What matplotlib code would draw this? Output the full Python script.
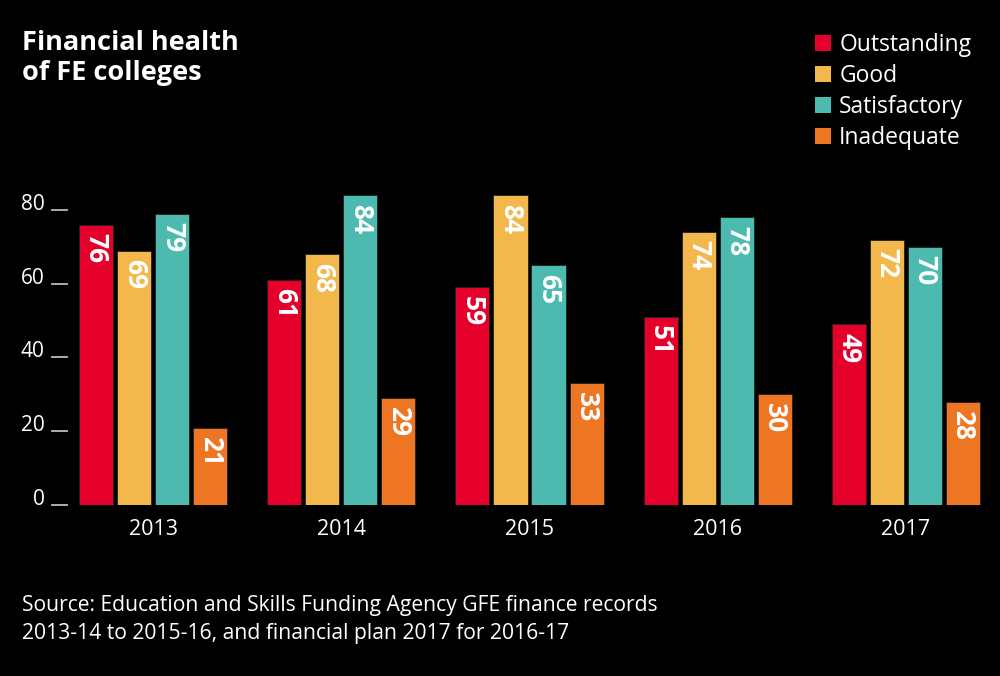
import numpy as np
import matplotlib.pyplot as plt
from matplotlib.patches import Patch
import matplotlib.transforms as mtransforms

plt.rcParams['font.family'] = ['Open Sans', 'DejaVu Sans']

years = ['2013', '2014', '2015', '2016', '2017']
categories = ['Outstanding', 'Good', 'Satisfactory', 'Inadequate']
outstanding = [76, 61, 59, 51, 49]
good = [69, 68, 84, 74, 72]
satisfactory = [79, 84, 65, 78, 70]
inadequate = [21, 29, 33, 30, 28]
colors = ['#e4002b', '#f2b84b', '#4dbaaf', '#ee7623']

series = [outstanding, good, satisfactory, inadequate]

fig = plt.figure(figsize=(10, 6.76), dpi=100, facecolor='black')
ax = fig.add_axes([0.078, 0.253, 0.903, 0.4636])
ax.set_facecolor('black')

pitch = 0.2021
width = 0.181
x = np.arange(len(years))
for j, (vals, c) in enumerate(zip(series, colors)):
    xs = x + (j - 1.5) * pitch
    ax.bar(xs, vals, width=width, color=c, edgecolor='#222222', linewidth=0.6)
    for xi, v in zip(xs, vals):
        ax.annotate(str(v), (xi, v), xytext=(0, -6), textcoords='offset points',
                    ha='center', va='top', rotation=-90, color='white',
                    fontsize=19, fontweight='bold')

ax.set_xlim(-0.4, 4.4)
ax.set_ylim(0, 85)
for s in ax.spines.values():
    s.set_visible(False)

ax.set_xticks(x)
ax.set_xticklabels(years)
ax.tick_params(axis='x', length=0, pad=10, labelsize=15.5, labelcolor='white')

ticks = [0, 20, 40, 60, 80]
ax.set_yticks(ticks)
ax.set_yticklabels([str(t) for t in ticks])
ax.tick_params(axis='y', length=0, pad=24, labelsize=15, labelcolor='white')
for lab in ax.get_yticklabels():
    lab.set_va('baseline')

trans = mtransforms.blended_transform_factory(ax.transAxes, ax.transData)
for t in ticks:
    ax.plot([-0.0288, -0.0122], [t, t], transform=trans, color='#bbbbbb',
            lw=1.3, clip_on=False)

fig.text(0.022, 1 - 30 / 676, 'Financial health\nof FE colleges', color='white',
         fontsize=19.5, fontweight='bold', ha='left', va='top',
         linespacing=1.2)

handles = [Patch(facecolor=c, edgecolor='none') for c in colors]
fig.legend(handles, categories, loc='upper left',
           bbox_to_anchor=(0.806, 1 - 24 / 676),
           frameon=False, fontsize=16.5, labelcolor='white', handlelength=0.7,
           handleheight=0.7, handletextpad=0.35, labelspacing=0.3,
           borderaxespad=0)

fig.text(0.022, 1 - 595 / 676,
         'Source: Education and Skills Funding Agency GFE finance records\n'
         '2013-14 to 2015-16, and financial plan 2017 for 2016-17',
         color='white', fontsize=15.2, ha='left', va='top', linespacing=1.45)

fig.savefig('out.png', dpi=100, facecolor='black')
